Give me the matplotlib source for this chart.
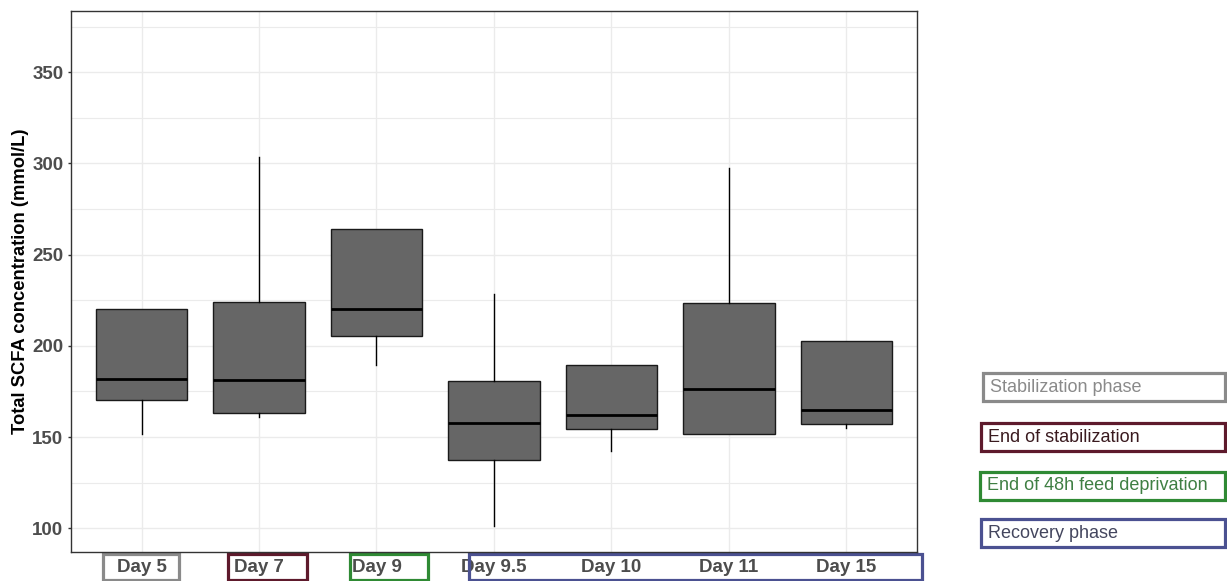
import matplotlib
matplotlib.use("Agg")
import matplotlib.pyplot as plt
from matplotlib.patches import Rectangle
from matplotlib.ticker import MultipleLocator

plt.rcParams['font.family'] = ['Liberation Sans', 'DejaVu Sans']

# Boxplot summary per sampling day
days = ['Day 5', 'Day 7', 'Day 9', 'Day 9.5', 'Day 10', 'Day 11', 'Day 15']
whis_lo = [151.7, 160.8, 189.4, 101.4, 142.4, 151.9, 154.8]
q1 = [170.2, 163.4, 205.2, 137.4, 154.3, 151.9, 157.0]
median = [181.8, 181.3, 220.1, 157.9, 162.3, 176.2, 164.9]
q3 = [220.1, 224.2, 263.9, 180.9, 189.5, 223.5, 202.8]
whis_hi = [220.1, 303.7, 263.9, 228.3, 189.5, 297.3, 202.8]

# phase colours and legend labels
phase_labels = ['Stabilization phase', 'End of stabilization',
                'End of 48h feed deprivation', 'Recovery phase']
phase_edge = ['#8a8a8a', '#5e1a2c', '#2f8a34', '#4b5191']
phase_text = ['#8a8a8a', '#3a1a1f', '#3f7f43', '#44465e']

fig = plt.figure(figsize=(12.27, 5.81), dpi=100)
ax = fig.add_axes([71 / 1227, 1 - 552 / 581, (917 - 71) / 1227, (552 - 11) / 581])

stats = []
for i in range(len(days)):
    stats.append({'label': days[i], 'whislo': whis_lo[i], 'q1': q1[i], 'med': median[i],
                  'q3': q3[i], 'whishi': whis_hi[i], 'fliers': []})

positions = list(range(1, len(days) + 1))
ax.bxp(stats, positions=positions, widths=0.78, patch_artist=True, showcaps=False,
       showfliers=False,
       boxprops=dict(facecolor='#666666', edgecolor='#1a1a1a', linewidth=1.0),
       medianprops=dict(color='black', linewidth=2.0),
       whiskerprops=dict(color='black', linewidth=1.0), zorder=3)

ax.set_xlim(0.4, len(days) + 0.6)
ax.set_ylim(87, 383.6)
ax.yaxis.set_major_locator(MultipleLocator(50))
ax.yaxis.set_minor_locator(MultipleLocator(25))
ax.grid(True, which='major', color='#ebebeb', linewidth=1.0, zorder=0)
ax.grid(True, which='minor', axis='y', color='#ebebeb', linewidth=0.8, zorder=0)
ax.set_axisbelow(True)
ax.tick_params(which='minor', length=0)
ax.tick_params(which='major', length=2.5, color='#333333', width=1.0)
for sp in ax.spines.values():
    sp.set_color('#333333')
    sp.set_linewidth(1.0)

ax.set_xticks(positions)
ax.set_xticklabels(days, fontsize=13.5, fontweight='bold', color='#4d4d4d')
for lab in ax.get_yticklabels():
    lab.set_fontsize(13.5)
    lab.set_fontweight('bold')
    lab.set_color('#4d4d4d')
ax.tick_params(axis='x', pad=2.5)
ax.tick_params(axis='y', pad=3)
ax.set_ylabel('Total SCFA concentration (mmol/L)', fontsize=13.2, fontweight='bold',
               color='black', labelpad=2)

# coloured frames round the x tick labels
trans = ax.get_xaxis_transform()
y0, y1 = -28 / 541, -2 / 541
frames = [(0.672, 1.319, 0), (1.736, 2.409, 1), (2.774, 3.438, 2), (3.787, 7.643, 3)]
for xa, xb, k in frames:
    ax.add_patch(Rectangle((xa, y0), xb - xa, y1 - y0, transform=trans, fill=False,
                           edgecolor=phase_edge[k], linewidth=2.3, clip_on=False))

# phase legend on the right
W, H = 1227, 581
leg_top = [373, 423, 472, 519]
leg_left = [983, 981, 980, 981]
for k, lab in enumerate(phase_labels):
    top = leg_top[k]
    fig.patches.append(Rectangle((leg_left[k] / W, 1 - (top + 28) / H),
                                 (1225 - leg_left[k]) / W, 28 / H,
                                 transform=fig.transFigure, fill=False,
                                 edgecolor=phase_edge[k], linewidth=2.3))
    fig.text((leg_left[k] + 7) / W, 1 - (top + 14) / H, lab, fontsize=13,
             color=phase_text[k], ha='left', va='center')

fig.savefig('out.png', dpi=100)
